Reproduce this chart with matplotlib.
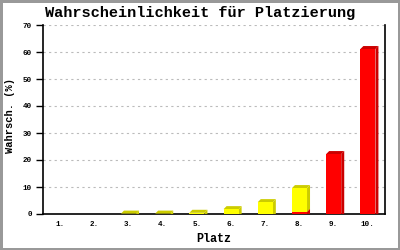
import numpy as np
import matplotlib.pyplot as plt
from matplotlib.patches import Polygon

# data
plaetze = ['1.', '2.', '3.', '4.', '5.', '6.', '7.', '8.', '9.', '10.']
sicher = [0, 0, 0, 0, 0, 0, 0, 0.8, 22.2, 61.1]          # red part
moeglich = [0, 0, 0.15, 0.15, 0.45, 1.8, 4.4, 8.8, 0, 0]  # yellow part

mono = 'Liberation Mono'

fig = plt.figure(figsize=(4, 2.5), dpi=100)
fig.patch.set_edgecolor('#999999')
fig.patch.set_linewidth(2.5)
ax = fig.add_axes([0.1075, 0.144, 0.855, 0.756])

x = np.arange(len(plaetze))
w = 0.44
ax.set_xlim(-0.5, len(plaetze) - 0.5)
ax.set_ylim(0, 70)

# depth of the fake 3d bars: 3px right, 3px up
px_x = (len(plaetze)) / (0.855 * 400)
px_y = 70 / (0.756 * 250)
dx, dy = 3 * px_x, 3 * px_y


def bar3d(xc, bottom, height, front, dark):
    if height <= 0:
        return
    top = bottom + height
    l, r = xc - w / 2, xc + w / 2
    ax.add_patch(Polygon([(r, bottom), (r + dx, bottom + dy * (bottom > 0)),
                          (r + dx, top + dy), (r, top)],
                         closed=True, facecolor=dark, edgecolor='none', zorder=3))
    ax.add_patch(Polygon([(l, top), (l + dx, top + dy), (r + dx, top + dy), (r, top)],
                         closed=True, facecolor=dark, edgecolor='none', zorder=3))
    ax.bar(xc, height, w, bottom=bottom, color=front, zorder=4)


for i in range(len(plaetze)):
    bar3d(x[i], 0, sicher[i], '#ff0000', '#cc0000')
    bar3d(x[i], sicher[i], moeglich[i], '#ffff00', '#cccc00')

ax.yaxis.grid(True, color='#bbbbbb', linestyle=(0, (2, 3)), linewidth=0.8)
ax.set_axisbelow(True)
ax.set_yticks(range(0, 71, 10))
ax.set_xticks(x)
ax.set_xticklabels(plaetze)
ax.spines['top'].set_visible(False)
for s in ['left', 'bottom', 'right']:
    ax.spines[s].set_linewidth(1.2)
ax.tick_params(axis='y', length=5, width=1, pad=3, labelsize=5.5)
ax.tick_params(axis='x', length=0, pad=5, labelsize=5.5)
for lab in ax.get_xticklabels() + ax.get_yticklabels():
    lab.set_fontfamily(mono)
    lab.set_fontweight('bold')

ax.set_xlabel('Platz', fontfamily=mono, fontweight='bold', fontsize=8.5, labelpad=4)
ax.set_ylabel('Wahrsch. (%)', fontfamily=mono, fontweight='bold', fontsize=7.5, labelpad=4)
ax.yaxis.set_label_coords(-0.083, 0.52)
fig.text(0.5, 0.948, 'Wahrscheinlichkeit für Platzierung', ha='center', va='center',
         fontfamily=mono, fontweight='bold', fontsize=11)

fig.savefig('out.png', dpi=100, edgecolor=fig.get_edgecolor())
